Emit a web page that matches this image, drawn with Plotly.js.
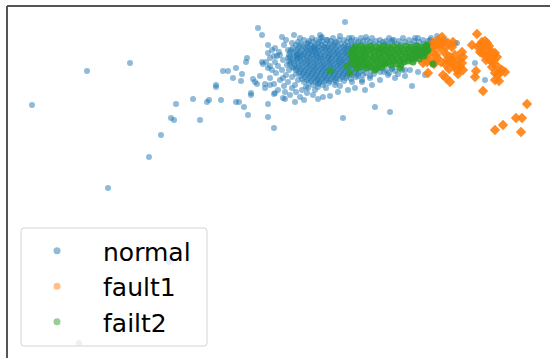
<!DOCTYPE html>
<html>
<head>
<meta charset="utf-8">
<script src="https://cdn.plot.ly/plotly-3.0.1.min.js"></script>
<style>
  html, body { margin: 0; padding: 0; background: #fff; }
  #chart { width: 550px; height: 358px; }
</style>
</head>
<body>
<div id="chart"></div>
<script>
// normal operating samples: scattered outliers first, then the dense band
const normalX = [
  258,262,130,87,32,268,247,246,262,263,223,228,236,242,233,241,260,253,255,216,216,257,251,251,265,270,
  193,176,209,207,221,236,239,244,248,268,268,274,274,171,174,200,161,149,108,79,169,
  282,294,308,314,277,290,297,298,275,285,283,285,300,307,313,345,320,322,327,335,457,
  343,375,390,348,365,372,412,410,418,475,485,323,302,308,315,295,292,
  268,272,275,270,275,280,283,278,272,268,276,282,286,280,274,270,284,288,292,296,278,290,265,
  284,288,292,286,279,287,283,289,291,294,296,298,266,270,274,
  295,304,318,330,338,355,362,380,395,405,425,388,455,460,
  300,340,352,366,392,415,430,437,358,370,384,398,405,392,352,340,326,318,
  312,321,333,349,361,372,389,403,418,431,
  304,316,327,339,344,356,367,380,394,409,423,437,445,
  309,322,331,351,363,376,386,399,414,428,
  298,313,319,336,347,358,370,383,392,405,419,433,441,
  301,307,318,325,330,341,352,361,373,379,388,397,411,424,436,
  296,311,322,334,345,355,366,384,401,416,429,
  303,315,328,338,348,
  299,308,319,324,332,343,351,
  293,305,313,327,336,346,355,
  298,310,317,322,330,340,349,
  291,302,307,315,325,334,344,352,
  296,311,319,329,338,347,
  290,300,305,314,323,333,342,351,
  294,309,317,327,336,345,
  298,304,312,320,330,339,348,355,
  289,301,308,316,325,334,343,
  294,303,313,321,329,338,347,353,
  297,307,317,324,332,341,350,
  288,300,310,319,328,336,345,354,
  293,304,313,322,331,340,349,
  297,307,316,326,335,343,352,
  289,301,310,320,329,338,346,356,
  294,304,314,323,332,341,350,
  298,308,317,327,336,344,353,360,
  290,302,311,321,330,339,348,
  295,306,315,324,333,342,351,358,
  299,309,318,327,337,346,355,366,
  292,303,313,322,331,340,349,361,372,
  297,307,316,325,334,344,353,368,381,
  301,311,320,329,338,347,357,376,392,
  296,305,314,323,333,342,351,363,386,402,
  300,309,318,327,336,345,356,371,395,
  304,313,322,331,340,349,360,380,
  299,308,317,326,335,344,354,366,389,
  303,312,321,330,339,348,358,374,
  307,316,325,334,343,352,363,
  301,311,320,329,338,347,370,
  305,315,324,333,342,356,
  309,318,327,336,346,
  302,313,322,331,340,351,
  307,317,326,335,362,
  311,320,330,344,
  304,315,324,336,
  309,319,329,
  313,323,335,
  306,318
];
const normalY = [
  330,323,295,287,253,305,300,296,296,294,287,287,290,284,280,277,282,279,276,273,271,274,265,263,274,273,
  259,254,258,256,258,256,256,251,243,254,241,230,264,240,238,238,223,201,170,15,96,
  321,323,315,311,302,301,303,300,265,266,260,259,261,265,263,336,323,321,318,315,315,
  240,251,246,268,268,273,272,288,286,295,278,261,268,270,268,273,281,
  313,308,310,300,296,303,298,292,288,290,285,288,283,278,274,280,272,276,270,266,268,263,270,
  313,308,315,318,306,293,280,288,296,290,284,278,296,292,302,
  256,258,259,262,266,270,276,278,280,282,283,283,315,298,
  320,322,320,321,318,320,318,322,282,280,286,284,288,290,276,272,270,274,
  320,320,320,320,320,320,320,320,320,320,
  318,318,318,318,318,318,318,318,318,318,318,318,318,
  317,317,317,317,317,317,317,317,317,317,
  316,316,316,316,316,316,316,316,316,316,316,316,316,
  314,314,314,314,314,314,314,314,314,314,314,314,314,314,314,
  313,313,313,313,313,313,313,313,313,313,313,
  312,312,312,312,312,
  311,311,311,311,311,311,311,
  310,310,310,310,310,310,310,
  309,309,309,309,309,309,309,
  308,308,308,308,308,308,308,308,
  307,307,307,307,307,307,
  306,306,306,306,306,306,306,306,
  305,305,305,305,305,305,
  304,304,304,304,304,304,304,304,
  303,303,303,303,303,303,303,
  302,302,302,302,302,302,302,302,
  301,301,301,301,301,301,301,
  300,300,300,300,300,300,300,300,
  299,299,299,299,299,299,299,
  298,298,298,298,298,298,298,
  297,297,297,297,297,297,297,297,
  296,296,296,296,296,296,296,
  295,295,295,295,295,295,295,295,
  294,294,294,294,294,294,294,
  293,293,293,293,293,293,293,293,
  292,292,292,292,292,292,292,292,
  291,291,291,291,291,291,291,291,291,
  290,290,290,290,290,290,290,290,290,
  289,289,289,289,289,289,289,289,289,
  288,288,288,288,288,288,288,288,288,288,
  287,287,287,287,287,287,287,287,287,
  286,286,286,286,286,286,286,286,
  285,285,285,285,285,285,285,285,285,
  284,284,284,284,284,284,284,284,
  283,283,283,283,283,283,283,
  282,282,282,282,282,282,282,
  281,281,281,281,281,281,
  280,280,280,280,280,
  279,279,279,279,279,279,
  278,278,278,278,278,
  277,277,277,277,
  276,276,276,276,
  275,275,275,
  273,273,273,
  271,271
];

// fault 1 samples
const fault1X = [
  477,472,482,485,487,483,488,492,495,497,482,486,490,493,498,502,505,495,498,499,495,483,476,475,
  527,516,522,503,495,521,
  433,438,443,448,452,442,453,428,433,440,445,450,425,430,437,423,427,428,
  447,450,453,455,457,458,462,463,462,460,443,450,446,463,
  422,424,427,435,440,432,446,436,441,434,446,449,455,459,
  480,484,489,490,486,492,494,500,478,480
];
const fault1Y = [
  324,313,316,317,315,310,308,306,305,301,305,302,298,295,291,288,286,285,283,277,278,267,287,281,
  254,240,240,233,228,226,
  315,318,317,315,311,321,316,308,306,310,305,301,300,298,300,295,296,285,
  298,297,295,292,288,284,306,301,295,291,283,276,280,288,
  305,302,303,313,314,311,311,303,296,294,293,289,303,298,
  313,312,312,304,298,291,298,286,311,306
];

// fault 2 samples
const fault2X = [
  360,371,383,394,406,417,426,
  355,366,377,388,400,411,422,
  358,363,372,381,391,397,408,416,425,
  353,368,378,386,403,413,421,428,
  356,362,374,383,393,399,410,419,426,
  351,366,379,388,405,415,423,
  355,360,371,384,395,401,412,420,
  352,365,376,389,407,417,424,
  357,362,372,381,392,398,409,415,
  353,367,378,387,403,412,419,
  356,361,372,383,394,400,408,
  352,366,377,389,404,413,
  358,363,374,385,396,
  355,368,380,391,401,
  360,371,382,
  357,366,377,
  330,347,350,400,433,427,375,385
];
const fault2Y = [
  312,312,312,312,312,312,312,
  311,311,311,311,311,311,311,
  309,309,309,309,309,309,309,309,309,
  308,308,308,308,308,308,308,308,
  306,306,306,306,306,306,306,306,306,
  305,305,305,305,305,305,305,
  303,303,303,303,303,303,303,303,
  302,302,302,302,302,302,302,
  300,300,300,300,300,300,300,300,
  299,299,299,299,299,299,299,
  297,297,297,297,297,297,297,
  296,296,296,296,296,296,
  294,294,294,294,294,
  293,293,293,293,293,
  291,291,291,
  290,290,290,
  287,292,285,290,294,313,288,295
];

const seriesNames = ['normal', 'fault1', 'failt2'];
const seriesColors = ['#1f77b4', '#ff7f0e', '#2ca02c'];

const traces = [
  { type: 'scatter', mode: 'markers', x: normalX, y: normalY, showlegend: false, hoverinfo: 'skip',
    marker: { color: seriesColors[0], size: 6, opacity: 0.5, line: { width: 0 } } },
  { type: 'scatter', mode: 'markers', x: fault1X, y: fault1Y, showlegend: false, hoverinfo: 'skip',
    marker: { color: seriesColors[1], size: 8, symbol: 'diamond', opacity: 0.9, line: { width: 0 } } },
  { type: 'scatter', mode: 'markers', x: fault2X, y: fault2Y, showlegend: false, hoverinfo: 'skip',
    marker: { color: seriesColors[2], size: 7, opacity: 0.85, line: { width: 0 } } }
];

// legend entries drawn with round, semi-transparent handles
seriesNames.forEach((name, i) => {
  traces.push({
    type: 'scatter', mode: 'markers', x: [null], y: [null], name: name,
    marker: { color: seriesColors[i], size: 7, opacity: 0.5, line: { width: 0 } }
  });
});

// rounded legend frame in paper coordinates
const fx0 = 0.0258, fx1 = 0.3683, fy0 = 0.0341, fy1 = 0.3693, rx = 0.0055, ry = 0.0085;
const framePath =
  `M ${fx0 + rx},${fy1} L ${fx1 - rx},${fy1} Q ${fx1},${fy1} ${fx1},${fy1 - ry} ` +
  `L ${fx1},${fy0 + ry} Q ${fx1},${fy0} ${fx1 - rx},${fy0} ` +
  `L ${fx0 + rx},${fy0} Q ${fx0},${fy0} ${fx0},${fy0 + ry} ` +
  `L ${fx0},${fy1 - ry} Q ${fx0},${fy1} ${fx0 + rx},${fy1} Z`;

const layout = {
  width: 550, height: 358,
  margin: { l: 7, r: 0, t: 6, b: 0, pad: 0 },
  paper_bgcolor: '#ffffff', plot_bgcolor: '#ffffff',
  xaxis: { range: [7, 550], visible: false, fixedrange: true },
  yaxis: { range: [0, 352], visible: false, fixedrange: true },
  showlegend: true,
  legend: {
    x: 0.0258, y: 0.034, xanchor: 'left', yanchor: 'bottom',
    itemwidth: 82, indentation: -11,
    bgcolor: 'rgba(0,0,0,0)', bordercolor: 'rgba(0,0,0,0)', borderwidth: 1,
    font: { family: 'DejaVu Sans', size: 25, color: '#000000' }
  },
  shapes: [
    { type: 'path', xref: 'paper', yref: 'paper', path: framePath, layer: 'above',
      fillcolor: 'rgba(255,255,255,0.8)', line: { color: '#d4d4d4', width: 1 } },
    { type: 'line', xref: 'paper', yref: 'paper', x0: 0, x1: 0, y0: 0, y1: 1, line: { color: '#555555', width: 2 } },
    { type: 'line', xref: 'paper', yref: 'paper', x0: 0, x1: 1, y0: 1, y1: 1, line: { color: '#555555', width: 2 } }
  ]
};

Plotly.newPlot('chart', traces, layout, { displayModeBar: false, staticPlot: true });
</script>
</body>
</html>
